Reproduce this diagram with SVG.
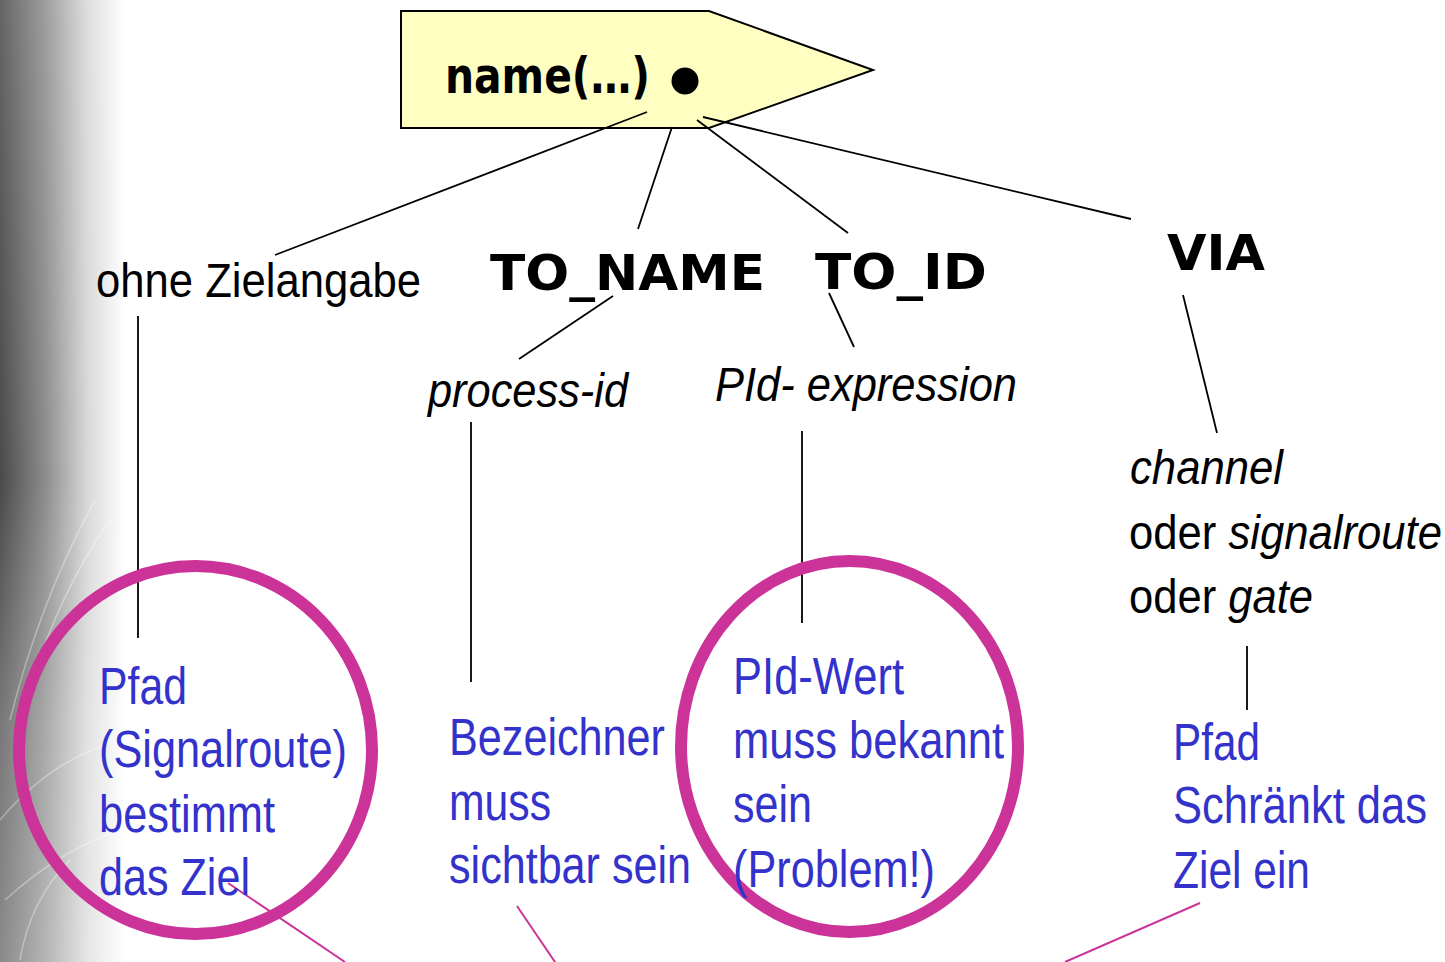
<svg xmlns="http://www.w3.org/2000/svg" width="1445" height="962" viewBox="0 0 1445 962">
<style>
.bk{font-family:"Liberation Sans",Arial,sans-serif;font-size:48px;fill:#000}
.it{font-style:italic}
.bl{font-family:"Liberation Sans",Arial,sans-serif;font-size:51px;fill:#3333CC}
.kw{font-family:"DejaVu Sans","Liberation Sans",sans-serif;font-weight:bold;font-size:50px;fill:#000}
.ln{stroke:#000;stroke-width:1.8;fill:none}
.pk{stroke:#CC3399;stroke-width:2;fill:none}
.ring{stroke:#CC3399;stroke-width:12;fill:none}
</style>
<defs>
<linearGradient id="bg" x1="0" y1="0" x2="1" y2="0">
<stop offset="0" stop-color="#4a4a4a"/>
<stop offset="0.35" stop-color="#8a8a8a"/>
<stop offset="0.7" stop-color="#d8d8d8"/>
<stop offset="1" stop-color="#ffffff"/>
</linearGradient>
<linearGradient id="bg2" x1="0" y1="0" x2="0" y2="1">
<stop offset="0" stop-color="#ffffff" stop-opacity="0.15"/>
<stop offset="0.5" stop-color="#ffffff" stop-opacity="0"/>
<stop offset="0.75" stop-color="#ffffff" stop-opacity="0.25"/>
<stop offset="1" stop-color="#ffffff" stop-opacity="0.35"/>
</linearGradient>
</defs>
<rect x="0" y="0" width="1445" height="962" fill="#fff"/>
<rect x="0" y="0" width="125" height="962" fill="url(#bg)"/>
<rect x="0" y="0" width="125" height="962" fill="url(#bg2)"/>
<g fill="none" stroke="#fff" stroke-opacity="0.35" stroke-width="1.5">
<path d="M10 720 Q40 600 95 500"/>
<path d="M25 700 Q60 590 110 520"/>
<path d="M0 820 Q50 760 120 740"/>
<path d="M5 900 Q60 850 120 830"/>
<path d="M20 960 Q30 900 70 860"/>
</g>

<g id="name-node">
<polygon points="401,11 709,11 873,70 709,128 401,128" fill="#FFFFC2" stroke="#000" stroke-width="2"/>
<text class="kw" x="445" y="93" textLength="205" lengthAdjust="spacingAndGlyphs">name(…)</text>
<circle cx="685" cy="81" r="13.5" fill="#000"/>
</g>

<g id="connectors">
<line class="ln" x1="647" y1="112" x2="275" y2="255"/>
<line class="ln" x1="672" y1="127" x2="638" y2="229"/>
<line class="ln" x1="697" y1="120" x2="848" y2="233"/>
<line class="ln" x1="703" y1="117" x2="1131" y2="219"/>
<line class="ln" x1="613" y1="296" x2="519" y2="359"/>
<line class="ln" x1="829" y1="293" x2="854" y2="347"/>
<line class="ln" x1="1183" y1="295" x2="1217" y2="433"/>
<line class="ln" x1="138" y1="316" x2="138" y2="638"/>
<line class="ln" x1="471" y1="422" x2="471" y2="682"/>
<line class="ln" x1="802" y1="431" x2="802" y2="623"/>
<line class="ln" x1="1247" y1="646" x2="1247" y2="710"/>
<line class="pk" x1="228" y1="883" x2="345" y2="962"/>
<line class="pk" x1="517" y1="906" x2="555" y2="962"/>
<line class="pk" x1="1200" y1="903" x2="1065" y2="962"/>
</g>

<g id="ohne">
<text class="bk" x="96" y="297" textLength="325" lengthAdjust="spacingAndGlyphs">ohne Zielangabe</text>
</g>
<g id="to-name">
<text class="kw" x="490" y="290" font-size="54" textLength="275" lengthAdjust="spacingAndGlyphs">TO_NAME</text>
</g>
<g id="to-id">
<text class="kw" x="815" y="289" font-size="54" textLength="172" lengthAdjust="spacingAndGlyphs">TO_ID</text>
</g>
<g id="via">
<text class="kw" x="1167" y="270" font-size="54" textLength="98" lengthAdjust="spacingAndGlyphs">VIA</text>
</g>
<g id="process-id">
<text class="bk it" x="428" y="407" textLength="200" lengthAdjust="spacingAndGlyphs">process-id</text>
</g>
<g id="pid-expression">
<text class="bk it" x="715" y="401" textLength="302" lengthAdjust="spacingAndGlyphs">PId- expression</text>
</g>
<g id="channel">
<text class="bk it" x="1130" y="484" textLength="153" lengthAdjust="spacingAndGlyphs">channel</text>
<text class="bk" x="1129" y="549" textLength="313" lengthAdjust="spacingAndGlyphs">oder <tspan font-style="italic">signalroute</tspan></text>
<text class="bk" x="1129" y="613" textLength="184" lengthAdjust="spacingAndGlyphs">oder <tspan font-style="italic">gate</tspan></text>
</g>

<g id="pfad-left">
<ellipse class="ring" cx="195.5" cy="750" rx="176.5" ry="184"/>
<text class="bl" x="99" y="704" textLength="88" lengthAdjust="spacingAndGlyphs">Pfad</text>
<text class="bl" x="99" y="767" textLength="248" lengthAdjust="spacingAndGlyphs">(Signalroute)</text>
<text class="bl" x="99" y="832" textLength="176" lengthAdjust="spacingAndGlyphs">bestimmt</text>
<text class="bl" x="99" y="895" textLength="151" lengthAdjust="spacingAndGlyphs">das Ziel</text>
</g>

<g id="bezeichner">
<text class="bl" x="449" y="755" textLength="216" lengthAdjust="spacingAndGlyphs">Bezeichner</text>
<text class="bl" x="449" y="820" textLength="102" lengthAdjust="spacingAndGlyphs">muss</text>
<text class="bl" x="449" y="883" textLength="242" lengthAdjust="spacingAndGlyphs">sichtbar sein</text>
</g>

<g id="pid-wert">
<ellipse class="ring" cx="849.5" cy="746.5" rx="168.5" ry="185.5"/>
<text class="bl" x="733" y="694" textLength="171" lengthAdjust="spacingAndGlyphs">PId-Wert</text>
<text class="bl" x="733" y="758" textLength="271" lengthAdjust="spacingAndGlyphs">muss bekannt</text>
<text class="bl" x="733" y="822" textLength="79" lengthAdjust="spacingAndGlyphs">sein</text>
<text class="bl" x="733" y="887" textLength="202" lengthAdjust="spacingAndGlyphs">(Problem!)</text>
</g>

<g id="pfad-right">
<text class="bl" x="1173" y="760" textLength="87" lengthAdjust="spacingAndGlyphs">Pfad</text>
<text class="bl" x="1173" y="823" textLength="254" lengthAdjust="spacingAndGlyphs">Schränkt das</text>
<text class="bl" x="1173" y="888" textLength="137" lengthAdjust="spacingAndGlyphs">Ziel ein</text>
</g>
</svg>
